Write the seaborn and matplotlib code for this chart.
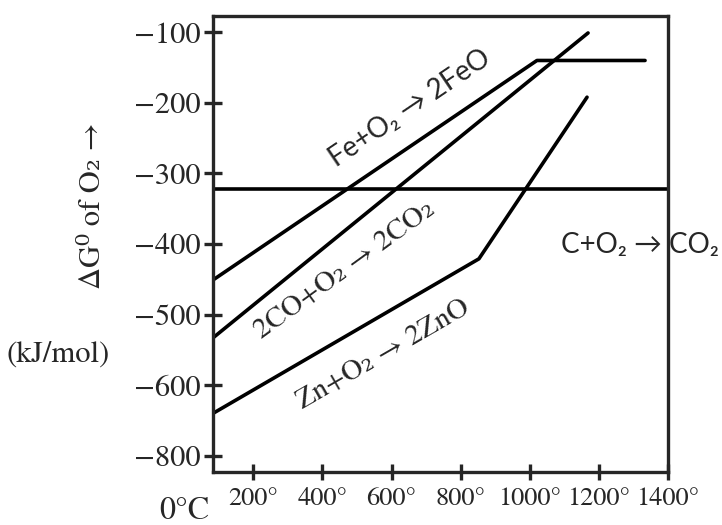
import numpy as np
import pandas as pd
import matplotlib
matplotlib.use("Agg")
import matplotlib.pyplot as plt
import seaborn as sns

# Ellingham lines (temperature in deg C, dG in kJ/mol O2)
temp_fe = [83, 1021, 1334]
dg_fe = [-451, -140, -140]
temp_co = [83, 1169]
dg_co = [-533, -101]
temp_zn = [83, 853, 1166]
dg_zn = [-640, -421, -192]
temp_c = [83, 1400]
dg_c = [-322, -322]

x_ticks = [200, 400, 600, 800, 1000, 1200, 1400]
x_labels = ["200°", "400°", "600°", "800°", "1000°", "1200°", "1400°"]
y_ticks = [-100, -200, -300, -400, -500, -600, -700]
y_labels = ["−100", "−200", "−300", "−400", "−500", "−600", "−800"]

sns.set_style("ticks")
plt.rcParams['font.family'] = ['STIXGeneral', 'DejaVu Serif']
plt.rcParams['axes.linewidth'] = 2.4

serif = ['STIXGeneral', 'DejaVu Serif']
sans = ['Lato', 'DejaVu Sans']

fig = plt.figure(figsize=(7.22, 5.25), dpi=100)
ax = fig.add_axes([0.295, 0.101, 0.63, 0.8685])

for tx, dg in [(temp_fe, dg_fe), (temp_co, dg_co), (temp_zn, dg_zn), (temp_c, dg_c)]:
    df = pd.DataFrame({'T': tx, 'dG': dg})
    sns.lineplot(data=df, x='T', y='dG', ax=ax, color='black', linewidth=2.6,
                 estimator=None, sort=False)

ax.set_xlim(83, 1400)
ax.set_ylim(-723, -77)
ax.set_xticks(x_ticks)
ax.set_xticklabels(x_labels, fontsize=19)
ax.set_yticks(y_ticks)
ax.set_yticklabels(y_labels, fontsize=22)
ax.tick_params(axis='x', direction='inout', length=12, width=2.4, pad=5)
ax.tick_params(axis='y', direction='inout', length=13.5, width=2.4, pad=2)
ax.set_xlabel('')
ax.set_ylabel('')

# reaction labels
ax.text(654, -208, "Fe+O₂ → 2FeO", rotation=34, fontsize=20, family=sans,
        ha='center', va='center', rotation_mode='anchor')
ax.text(466, -437, "2CO+O₂ → 2CO₂", rotation=36, fontsize=21, family=serif,
        ha='center', va='center', rotation_mode='anchor')
ax.text(576, -557, "Zn+O₂ → 2ZnO", rotation=30, fontsize=21, family=serif,
        ha='center', va='center', rotation_mode='anchor')
ax.text(1091, -402, "C+O₂ → CO₂", fontsize=20, family=sans,
        ha='left', va='center', clip_on=False)

# axis titles
fig.text(93 / 722, 1 - 206 / 525, "ΔG⁰ of O₂ →", rotation=90, fontsize=22,
         ha='center', va='center', family=serif)
fig.text(58 / 722, 1 - 355 / 525, "(kJ/mol)", fontsize=22,
         ha='center', va='center', family=serif)
fig.text(184 / 722, 1 - 497 / 525, "0°C", fontsize=23,
         ha='center', va='top', family=serif)

plt.savefig("out.png", dpi=100)
